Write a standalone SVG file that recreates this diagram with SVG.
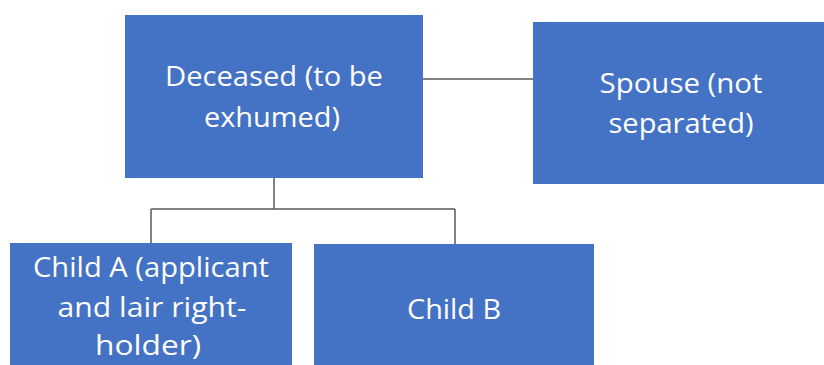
<svg xmlns="http://www.w3.org/2000/svg" width="824" height="365" viewBox="0 0 824 365">
<style>
.box{fill:#4472C4;}
.t{font-family:"Open Sans","Noto Sans","Liberation Sans",sans-serif;font-size:28px;fill:#ffffff;text-anchor:middle;}
.c{stroke:#595959;stroke-width:1.5;fill:none;}
</style>
<rect width="824" height="365" fill="#ffffff"/>
<g id="connectors">
<path class="c" d="M423 79 H533"/>
<path class="c" d="M274 178 V209 M151 209 H455 M151 209 V243 M455 209 V244"/>
</g>
<g id="deceased">
<rect class="box" x="125" y="15" width="298" height="163"/>
<text class="t" x="274" y="86" textLength="218" lengthAdjust="spacingAndGlyphs">Deceased (to be</text>
<text class="t" x="272" y="127" textLength="136" lengthAdjust="spacingAndGlyphs">exhumed)</text>
</g>
<g id="spouse">
<rect class="box" x="533" y="22" width="291" height="162"/>
<text class="t" x="681" y="93" textLength="163" lengthAdjust="spacingAndGlyphs">Spouse (not</text>
<text class="t" x="681" y="133" textLength="145" lengthAdjust="spacingAndGlyphs">separated)</text>
</g>
<g id="childA">
<rect class="box" x="10" y="243" width="282" height="122"/>
<text class="t" x="151" y="277" textLength="236" lengthAdjust="spacingAndGlyphs">Child A (applicant</text>
<text class="t" x="152" y="317" textLength="189" lengthAdjust="spacingAndGlyphs">and lair right-</text>
<text class="t" x="148" y="355" textLength="106" lengthAdjust="spacingAndGlyphs">holder)</text>
</g>
<g id="childB">
<rect class="box" x="314" y="244" width="280" height="121"/>
<text class="t" x="454" y="319" textLength="94" lengthAdjust="spacingAndGlyphs">Child B</text>
</g>
</svg>
